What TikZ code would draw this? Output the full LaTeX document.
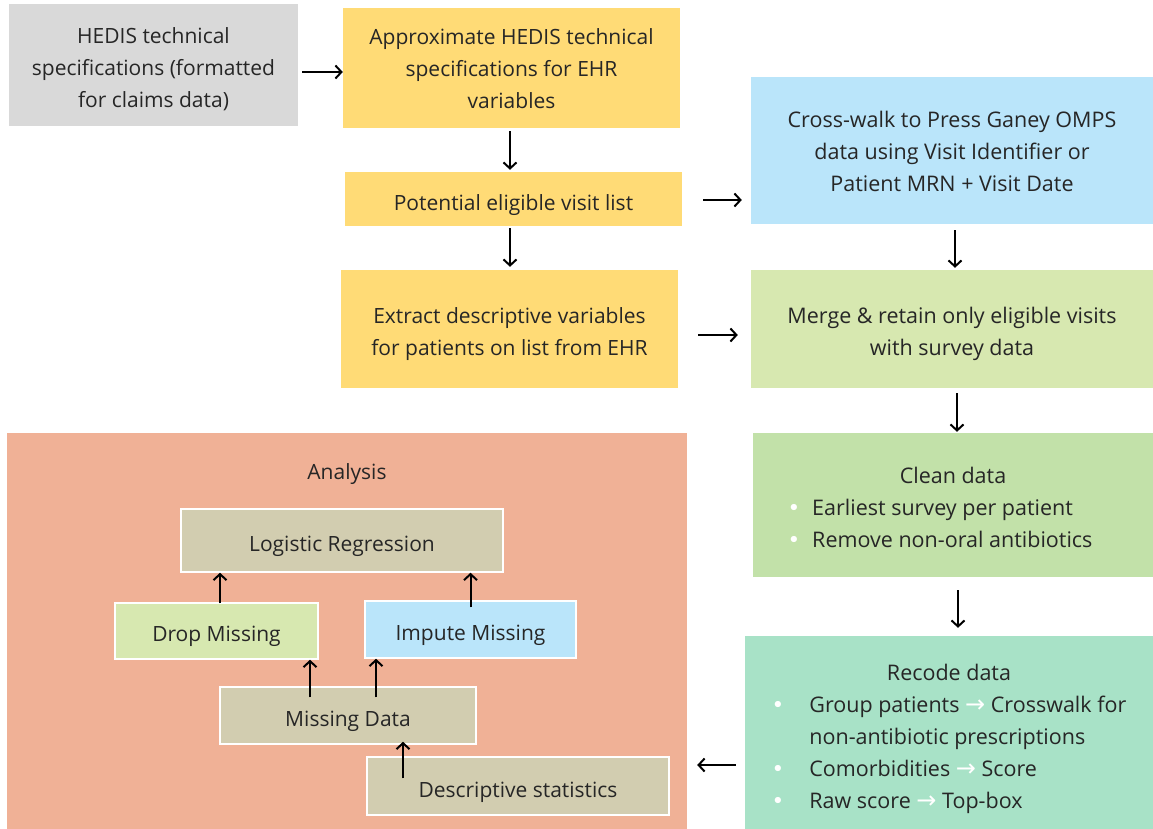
\documentclass[tikz,border=0pt]{standalone}
\usepackage{fontspec}
\setmainfont{Open Sans}
\newfontfamily\symfont{DejaVu Sans}
\usepackage{xcolor}
\usepackage{tikz}
\usetikzlibrary{arrows.meta, positioning}

\definecolor{hedisgray}{HTML}{D9D9D9}
\definecolor{stepyellow}{HTML}{FFDB76}
\definecolor{stepblue}{HTML}{BAE5FA}
\definecolor{stepgreen}{HTML}{D7E8B0}
\definecolor{cleangreen}{HTML}{C2E1A9}
\definecolor{recodeteal}{HTML}{A8E2C7}
\definecolor{analysisred}{HTML}{F0B196}
\definecolor{modeltan}{HTML}{D2CDB0}

\newcommand{\wbul}{\textcolor{white}{\symfont •}}
\newcommand{\warr}{\textcolor{white}{\fontsize{24}{32}\symfont →}}
% box text, lowered a little without changing its size
\newcommand{\boxtext}[2][4pt]{\raisebox{-#1}[\height][\depth]{\begin{tabular}{@{}c@{}}#2\end{tabular}}}

\begin{document}
\begin{tikzpicture}[
    x=1pt, y=-1pt,
    box/.style={rectangle, inner sep=0pt, text=black!85,
        font=\fontsize{21.5}{32}\selectfont},
    leftbox/.style={box, font=\fontsize{21}{32}\selectfont},
    inbox/.style={leftbox, draw=white, line width=1.5pt},
    arrow/.style={-{Straight Barb[length=6pt,width=13pt]}, line width=2pt}
]
    \useasboundingbox (0,0) rectangle (1153,829);

    % Extraction (left column)
    \node[leftbox, fill=hedisgray, minimum width=289, minimum height=122] (hedis) at (153.5,65)
        {\boxtext{HEDIS technical\\specifications (formatted\\for claims data)}};
    \node[leftbox, fill=stepyellow, minimum width=337, minimum height=120] (approx) at (511.5,68)
        {\boxtext[2pt]{Approximate HEDIS technical\\specifications for EHR\\variables}};
    \node[leftbox, fill=stepyellow, minimum width=337, minimum height=54] (potential) at (513.5,199)
        {\boxtext[5pt]{Potential eligible visit list}};
    \node[leftbox, fill=stepyellow, minimum width=337, minimum height=118] (extract) at (509.5,329)
        {\boxtext{Extract descriptive variables\\for patients on list from EHR}};

    % Linkage and cleaning (right column)
    \node[box, fill=stepblue, minimum width=402, minimum height=147] (crosswalk) at (952,150.5)
        {\boxtext[3pt]{Cross-walk to Press Ganey OMPS\\data using Visit Identifier or\\Patient MRN + Visit Date}};
    \node[box, fill=stepgreen, minimum width=402, minimum height=118] (merge) at (952,329)
        {\boxtext{Merge \& retain only eligible visits\\with survey data}};
    \node[box, fill=cleangreen, minimum width=400, minimum height=144] (clean) at (953,505)
        {\raisebox{-4pt}[\height][\depth]{\begin{tabular}{@{}c@{\hspace{12pt}}l@{\hspace{26pt}}}
            \multicolumn{2}{c}{Clean data\hspace{-26pt}}\\
            \wbul & Earliest survey per patient\\
            \wbul & Remove non-oral antibiotics
        \end{tabular}}};
    \node[box, fill=recodeteal, minimum width=408, minimum height=193] (recode) at (949,732.5)
        {\raisebox{-6pt}[\height][\depth]{\begin{tabular}{@{}c@{\hspace{25pt}}l@{}}
            \multicolumn{2}{c}{Recode data}\\
            \wbul & Group patients \warr{} Crosswalk for\\
                  & non-antibiotic prescriptions\\
            \wbul & Comorbidities \warr{} Score\\
            \wbul & Raw score \warr{} Top-box
        \end{tabular}}};

    % Analysis panel
    \node[box, fill=analysisred, minimum width=680, minimum height=396] (analysis) at (347,631) {};
    \node[leftbox] (analysislbl) at (347,474) {Analysis};
    \node[inbox, fill=modeltan, minimum width=322, minimum height=63] (logistic) at (342,540.5)
        {\boxtext[5pt]{Logistic Regression}};
    \node[inbox, fill=stepgreen, minimum width=203, minimum height=56] (drop) at (216.5,631)
        {\boxtext{Drop Missing}};
    \node[inbox, fill=stepblue, minimum width=211, minimum height=57] (impute) at (470.5,629.5)
        {\boxtext[5pt]{Impute Missing}};
    \node[inbox, fill=modeltan, minimum width=256, minimum height=57] (missing) at (348,715.5)
        {\boxtext[5pt]{Missing Data}};
    \node[inbox, fill=modeltan, minimum width=302, minimum height=58] (desc) at (518,786)
        {\boxtext[5pt]{Descriptive statistics}};

    % Flow arrows
    \draw[arrow] ([xshift=4pt,yshift=-7pt]hedis.east) -- ([yshift=-7pt]hedis.east -| approx.west);
    \draw[arrow, shorten <=3pt, shorten >=2pt] ([xshift=-1.5pt]approx.south) -- ([xshift=-1.5pt]approx.south |- potential.north);
    \draw[arrow, shorten <=2pt, shorten >=3pt] ([xshift=-3.5pt]potential.south) -- ([xshift=-3.5pt]potential.south |- extract.north);
    \draw[arrow, shorten >=9pt] ([xshift=21pt,yshift=-1pt]potential.east) -- ([yshift=-1pt]potential.east -| crosswalk.west);
    \draw[arrow, shorten >=13pt] ([xshift=20pt,yshift=-6pt]extract.east) -- ([yshift=-6pt]extract.east -| merge.west);
    \draw[arrow, shorten <=6pt, shorten >=2pt] ([xshift=3pt]crosswalk.south) -- ([xshift=3pt]crosswalk.south |- merge.north);
    \draw[arrow, shorten <=5pt, shorten >=1pt] ([xshift=5pt]merge.south) -- ([xshift=5pt]merge.south |- clean.north);
    \draw[arrow, shorten <=13pt, shorten >=8pt] ([xshift=5pt]clean.south) -- ([xshift=5pt]clean.south |- recode.north);
    \draw[arrow, shorten <=9pt, shorten >=10pt] ([yshift=-32.5pt]recode.west) -- ([yshift=-32.5pt]recode.west -| analysis.east);

    % Analysis arrows
    \draw[arrow] ([xshift=3.5pt,yshift=-1pt]drop.north) -- ([xshift=3.5pt]drop.north |- logistic.south);
    \draw[arrow] ([yshift=-7pt]impute.north) -- (impute.north |- logistic.south);
    \draw[arrow] ([xshift=-38pt,yshift=-11pt]missing.north) -- ([xshift=-38pt]missing.north |- drop.south);
    \draw[arrow] ([xshift=28pt,yshift=-11pt]missing.north) -- ([xshift=28pt]missing.north |- impute.south);
    \draw[arrow] ([xshift=-115pt,yshift=-22pt]desc.north) -- ([xshift=-115pt,yshift=3pt]desc.north |- missing.south);

\end{tikzpicture}
\end{document}
